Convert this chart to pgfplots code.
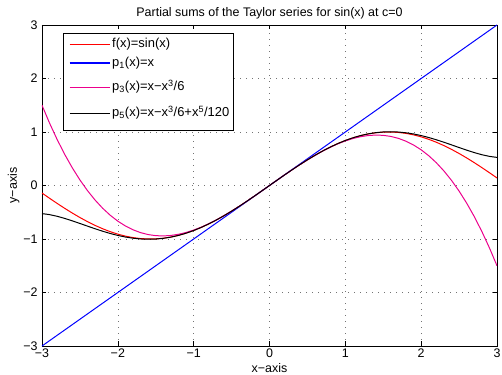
\documentclass[border=0pt]{standalone}
\usepackage{fontspec}
\setmainfont{Liberation Sans}
\usepackage{pgfplots}
\usepackage{pgfplotstable}
\pgfplotsset{compat=1.18}
\pgfplotstableread{
x sinx p3 p5
-3.0 -0.1411 1.5 -0.525
-2.9 -0.2392 1.16483 -0.54443
-2.8 -0.3350 0.85867 -0.57553
-2.7 -0.4274 0.5805 -0.61524
-2.6 -0.5155 0.32933 -0.66078
-2.5 -0.5985 0.10417 -0.70963
-2.4 -0.6755 -0.096 -0.75955
-2.3 -0.7457 -0.27217 -0.80853
-2.2 -0.8085 -0.42533 -0.8548
-2.1 -0.8632 -0.5565 -0.89684
-2.0 -0.9093 -0.66667 -0.93333
-1.9 -0.9463 -0.75683 -0.96317
-1.8 -0.9738 -0.828 -0.98546
-1.7 -0.9917 -0.88117 -0.99949
-1.6 -0.9996 -0.91733 -1.00471
-1.5 -0.9975 -0.9375 -1.00078
-1.4 -0.9854 -0.94267 -0.98749
-1.3 -0.9636 -0.93383 -0.96477
-1.2 -0.9320 -0.912 -0.93274
-1.1 -0.8912 -0.87817 -0.89159
-1.0 -0.8415 -0.83333 -0.84167
-0.9 -0.7833 -0.7785 -0.78342
-0.8 -0.7174 -0.71467 -0.7174
-0.7 -0.6442 -0.64283 -0.64423
-0.6 -0.5646 -0.564 -0.56465
-0.5 -0.4794 -0.47917 -0.47943
-0.4 -0.3894 -0.38933 -0.38942
-0.3 -0.2955 -0.2955 -0.29552
-0.2 -0.1987 -0.19867 -0.19867
-0.1 -0.0998 -0.09983 -0.09983
0.0 0 0 0
0.1 0.0998 0.09983 0.09983
0.2 0.1987 0.19867 0.19867
0.3 0.2955 0.2955 0.29552
0.4 0.3894 0.38933 0.38942
0.5 0.4794 0.47917 0.47943
0.6 0.5646 0.564 0.56465
0.7 0.6442 0.64283 0.64423
0.8 0.7174 0.71467 0.7174
0.9 0.7833 0.7785 0.78342
1.0 0.8415 0.83333 0.84167
1.1 0.8912 0.87817 0.89159
1.2 0.9320 0.912 0.93274
1.3 0.9636 0.93383 0.96477
1.4 0.9854 0.94267 0.98749
1.5 0.9975 0.9375 1.00078
1.6 0.9996 0.91733 1.00471
1.7 0.9917 0.88117 0.99949
1.8 0.9738 0.828 0.98546
1.9 0.9463 0.75683 0.96317
2.0 0.9093 0.66667 0.93333
2.1 0.8632 0.5565 0.89684
2.2 0.8085 0.42533 0.8548
2.3 0.7457 0.27217 0.80853
2.4 0.6755 0.096 0.75955
2.5 0.5985 -0.10417 0.70963
2.6 0.5155 -0.32933 0.66078
2.7 0.4274 -0.5805 0.61524
2.8 0.3350 -0.85867 0.57553
2.9 0.2392 -1.16483 0.54443
3.0 0.1411 -1.5 0.525
}\datatable
\begin{document}
\begin{tikzpicture}
\begin{axis}[
  scale only axis,
  width=455bp, height=321bp,
  xmin=-3, xmax=3, ymin=-3, ymax=3,
  xtick={-3,-2,-1,0,1,2,3},
  ytick={-3,-2,-1,0,1,2,3},
  xticklabels={−3,−2,−1,0,1,2,3},
  yticklabels={−3,−2,−1,0,1,2,3},
  tick label style={font=\fontsize{12.5}{14}\selectfont},
  xticklabel style={yshift=1bp},
  yticklabel style={xshift=-1bp},
  label style={font=\fontsize{12.5}{14}\selectfont},
  title style={font=\fontsize{12.5}{14}\selectfont, yshift=-4bp},
  tick align=inside,
  major tick length=4.5bp,
  tick style={black, line width=0.4pt},
  grid=major,
  major grid style={black!55, line width=0.5pt, dash pattern=on 0.6bp off 5.4bp},
  axis line style={line width=0.7pt},
  xlabel={x−axis}, ylabel={y−axis},
  xlabel style={yshift=1bp},
  ylabel style={yshift=-3bp},
  title={Partial sums of the Taylor series for sin(x) at c=0},
  legend style={at={(0.046,0.975)}, anchor=north west,
    font=\fontsize{13}{14}\selectfont,
    row sep=0bp, inner xsep=2bp, inner ysep=3bp,
    cells={anchor=base west},
    nodes={inner xsep=2bp, inner ysep=0bp, text depth={}}},
  legend image code/.code={\path (0bp,0bp); \draw[#1, line width=1.2pt] (4bp,3.5bp) -- (44bp,3.5bp);},
]
\addplot[red, line width=1pt] table[x=x, y=sinx] {\datatable};
\addlegendentry{\rule[-4bp]{0pt}{15.5bp}f(x)=sin(x)}
\addplot[blue, line width=1pt] coordinates {(-3,-3) (3,3)};
\addlegendentry{\rule[-4bp]{0pt}{18.7bp}p\textsubscript{1}(x)=x}
\addplot[magenta, line width=1pt] table[x=x, y=p3] {\datatable};
\addlegendentry{\rule[-4bp]{0pt}{24.3bp}p\textsubscript{3}(x)=x−x\textsuperscript{3}/6}
\addplot[black, line width=1pt] table[x=x, y=p5] {\datatable};
\addlegendentry{\rule[-10bp]{0pt}{32bp}p\textsubscript{5}(x)=x−x\textsuperscript{3}/6+x\textsuperscript{5}/120}
\end{axis}
\pgfresetboundingbox
\path[use as bounding box] ([shift={(-42bp,-29bp)}]current axis.south west) rectangle ([shift={(5bp,25bp)}]current axis.north east);
\end{tikzpicture}
\end{document}
